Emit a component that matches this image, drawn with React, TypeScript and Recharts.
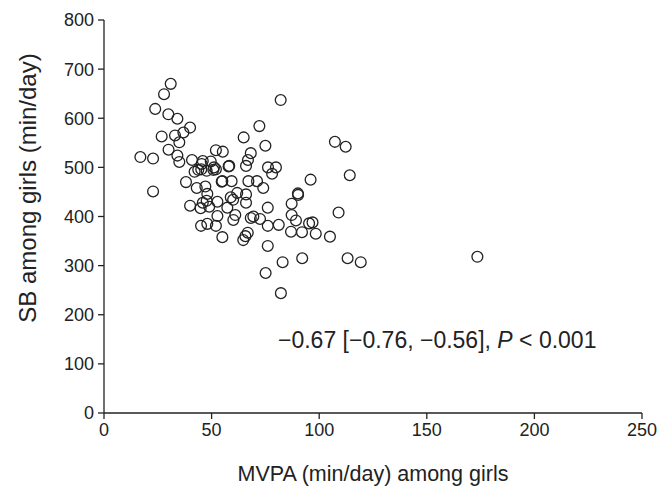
import { ScatterChart, Scatter, XAxis, YAxis, Label, Customized } from "recharts";

// MVPA (min/day) and SB (min/day) per girl
const mvpa = [
  31.0, 27.9, 23.8, 29.9, 34.1, 82.1, 40.0, 36.9, 26.8, 33.0,
  35.0, 72.2, 64.9, 75.0, 107.3, 112.3, 30.0, 16.9, 22.8, 34.1,
  35.0, 40.9, 52.0, 55.2, 45.9, 49.6, 51.1, 45.2, 42.1, 47.7,
  52.0, 57.9, 68.2, 66.9, 66.0, 76.2, 79.9, 78.1, 114.2, 96.0,
  38.1, 43.1, 47.1, 55.0, 59.3, 67.1, 71.1, 74.0, 22.8, 48.0,
  61.9, 66.0, 90.1, 90.2, 58.9, 52.7, 40.0, 45.9, 48.9, 44.9,
  57.3, 66.0, 76.1, 87.2, 109.0, 52.7, 61.0, 60.1, 68.2, 69.4,
  72.5, 87.2, 89.2, 45.1, 48.0, 52.0, 76.1, 81.2, 95.3, 96.9,
  86.9, 92.0, 98.4, 105.0, 55.0, 66.8, 65.7, 64.7, 76.1, 83.0,
  92.1, 113.2, 119.3, 173.5, 75.1, 82.2, 47.7, 60.0, 43.8, 50.8,
  54.7, 45.4, 58.2,
];
const sb = [
  670, 649, 619, 608, 599, 637, 581, 571, 563, 565,
  551, 584, 561, 544, 552, 542, 536, 521, 518, 524,
  511, 515, 535, 532, 513, 512, 500, 496, 491, 493,
  496, 502, 529, 515, 503, 500, 500, 487, 484, 475,
  470, 458, 461, 472, 472, 472, 472, 458, 451, 446,
  448, 445, 447, 444, 439, 430, 422, 428, 420, 417,
  418, 428, 418, 426, 408, 401, 403, 393, 397, 400,
  395, 403, 392, 381, 385, 381, 381, 383, 386, 388,
  369, 368, 365, 359, 358, 367, 360, 352, 340, 307,
  315, 315, 307, 318, 285, 244, 432, 434, 495, 495,
  471, 507, 503,
];
const xTicks = [0, 50, 100, 150, 200, 250];
const yTicks = [0, 100, 200, 300, 400, 500, 600, 700, 800];

const points = mvpa.map((x, i) => ({ x, y: sb[i] }));

const FONT = "'Liberation Sans', Arial, sans-serif";
const INK = "#222";

function Ring(props: any) {
  return <circle cx={props.cx} cy={props.cy} r={5.4} fill="none" stroke={INK} strokeWidth={1.3} />;
}

function Annotation() {
  return (
    <text x={278} y={348} fontSize={23} fontFamily={FONT} fill={INK}>
      −0.67 [−0.76, −0.56], <tspan fontStyle="italic">P</tspan> &lt; 0.001
    </text>
  );
}

function YTitle() {
  return (
    <text x={0} y={0} transform="translate(36,188) rotate(-90)" textAnchor="middle" fontSize={24} fontFamily={FONT} fill={INK}>
      SB among girls (min/day)
    </text>
  );
}

export default function App() {
  return (
    <div style={{ position: "absolute", left: 0, top: 0, width: 662, height: 487, background: "#fff" }}>
      <ScatterChart width={662} height={487} margin={{ top: 20, right: 20, bottom: 0, left: 0 }}>
        <XAxis
          type="number"
          dataKey="x"
          domain={[0, 250]}
          ticks={xTicks}
          tickSize={6}
          tickMargin={4}
          height={74}
          stroke={INK}
          strokeWidth={1.3}
          tick={{ fill: INK, fontSize: 18, fontFamily: FONT }}
        >
          <Label value="MVPA (min/day) among girls" position="insideBottom" offset={6} fill={INK} fontSize={21.5} fontFamily={FONT} />
        </XAxis>
        <YAxis
          type="number"
          dataKey="y"
          domain={[0, 800]}
          ticks={yTicks}
          tickSize={6}
          tickMargin={4}
          width={104}
          stroke={INK}
          strokeWidth={1.3}
          tick={{ fill: INK, fontSize: 18, fontFamily: FONT }}
        >
          <Label content={YTitle} />
        </YAxis>
        <Scatter data={points} shape={Ring} isAnimationActive={false} />
        <Customized component={Annotation} />
      </ScatterChart>
    </div>
  );
}
